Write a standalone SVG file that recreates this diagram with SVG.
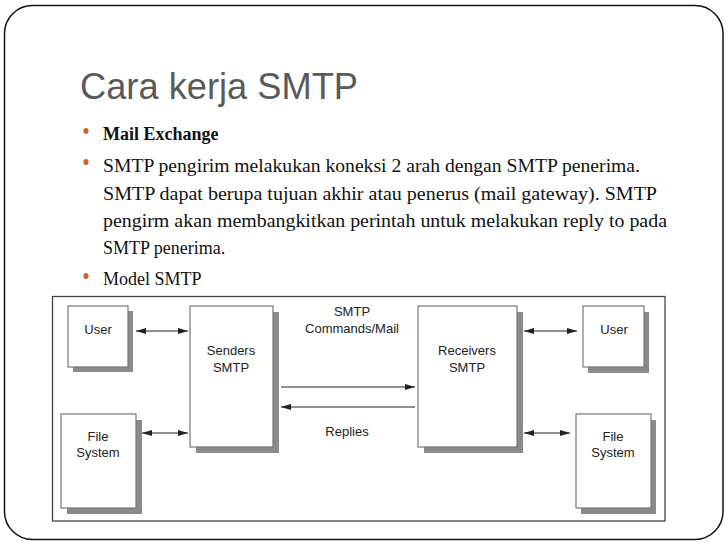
<svg xmlns="http://www.w3.org/2000/svg" width="728" height="546" viewBox="0 0 728 546">
<style>
.title{font-family:"Liberation Sans",Arial,sans-serif;font-size:36px;fill:#5a5a5a}
.body{font-family:"Liberation Serif","Times New Roman",serif;font-size:18px;fill:#111}
.bold{font-weight:bold}
.lbl{font-family:"Liberation Sans",Arial,sans-serif;font-size:13px;fill:#222;text-anchor:middle}
.box{fill:#fff;stroke:#777;stroke-width:1.2}
.sh{fill:#8a8a8a}
.con{stroke:#222;stroke-width:1.2;fill:none}
.bul{fill:#d0612a}
</style>
<defs>
<marker id="ah" viewBox="0 0 10 6" refX="10" refY="3" markerWidth="10" markerHeight="6" markerUnits="userSpaceOnUse" orient="auto-start-reverse">
<path d="M0,0 L10,3 L0,6 z" fill="#222"/>
</marker>
</defs>
<rect x="0" y="0" width="728" height="546" fill="#fff"/>
<rect x="4.5" y="5.5" width="718.5" height="534" rx="28" ry="28" fill="#fff" stroke="#111" stroke-width="1.5"/>
<text class="title" x="80" y="99" textLength="278" lengthAdjust="spacingAndGlyphs">Cara kerja SMTP</text>
<g id="bullets">
<ellipse class="bul" cx="86" cy="131" rx="2.6" ry="3"/>
<ellipse class="bul" cx="86" cy="162" rx="2.6" ry="3"/>
<ellipse class="bul" cx="86" cy="276" rx="2.6" ry="3"/>
<text class="body bold" x="103" y="140">Mail Exchange</text>
<text class="body" x="103" y="172" textLength="537" lengthAdjust="spacingAndGlyphs">SMTP pengirim melakukan koneksi 2 arah dengan SMTP penerima.</text>
<text class="body" x="103" y="200" textLength="554" lengthAdjust="spacingAndGlyphs">SMTP dapat berupa tujuan akhir atau penerus (mail gateway). SMTP</text>
<text class="body" x="103" y="227" textLength="564" lengthAdjust="spacingAndGlyphs">pengirm akan membangkitkan perintah untuk melakukan reply to pada</text>
<text class="body" x="103" y="254">SMTP penerima.</text>
<text class="body" x="103" y="285">Model SMTP</text>
</g>
<rect x="52.5" y="296.5" width="612.5" height="224.5" fill="#fff" stroke="#444" stroke-width="1.3"/>
<g id="user-left">
<rect class="sh" x="73" y="311" width="60" height="61"/>
<rect class="box" x="68" y="306" width="60" height="61"/>
<text class="lbl" x="98" y="334">User</text>
</g>
<g id="fs-left">
<rect class="sh" x="67" y="420" width="75" height="94"/>
<rect class="box" x="61" y="414" width="75" height="94"/>
<text class="lbl" x="98" y="441">File</text>
<text class="lbl" x="98" y="457">System</text>
</g>
<g id="senders">
<rect class="sh" x="196" y="312" width="83" height="141"/>
<rect class="box" x="190" y="306" width="83" height="141"/>
<text class="lbl" x="231" y="355">Senders</text>
<text class="lbl" x="231" y="372">SMTP</text>
</g>
<g id="receivers">
<rect class="sh" x="424" y="312" width="99" height="141"/>
<rect class="box" x="418" y="306" width="99" height="141"/>
<text class="lbl" x="467" y="355">Receivers</text>
<text class="lbl" x="467" y="372">SMTP</text>
</g>
<g id="user-right">
<rect class="sh" x="588" y="312" width="61" height="61"/>
<rect class="box" x="583" y="306" width="61" height="61"/>
<text class="lbl" x="614" y="334">User</text>
</g>
<g id="fs-right">
<rect class="sh" x="581" y="420" width="75" height="94"/>
<rect class="box" x="576" y="414" width="75" height="94"/>
<text class="lbl" x="613" y="441">File</text>
<text class="lbl" x="613" y="457">System</text>
</g>
<g id="connectors">
<line class="con" x1="136" y1="331" x2="188" y2="331" marker-start="url(#ah)" marker-end="url(#ah)"/>
<line class="con" x1="142" y1="433" x2="188" y2="433" marker-start="url(#ah)" marker-end="url(#ah)"/>
<line class="con" x1="281" y1="387" x2="415" y2="387" marker-end="url(#ah)"/>
<line class="con" x1="415" y1="407" x2="281" y2="407" marker-end="url(#ah)"/>
<line class="con" x1="524" y1="331" x2="577" y2="331" marker-start="url(#ah)" marker-end="url(#ah)"/>
<line class="con" x1="524" y1="433" x2="570" y2="433" marker-start="url(#ah)" marker-end="url(#ah)"/>
<text class="lbl" x="352" y="316">SMTP</text>
<text class="lbl" x="352" y="333">Commands/Mail</text>
<text class="lbl" x="347" y="436">Replies</text>
</g>
</svg>
